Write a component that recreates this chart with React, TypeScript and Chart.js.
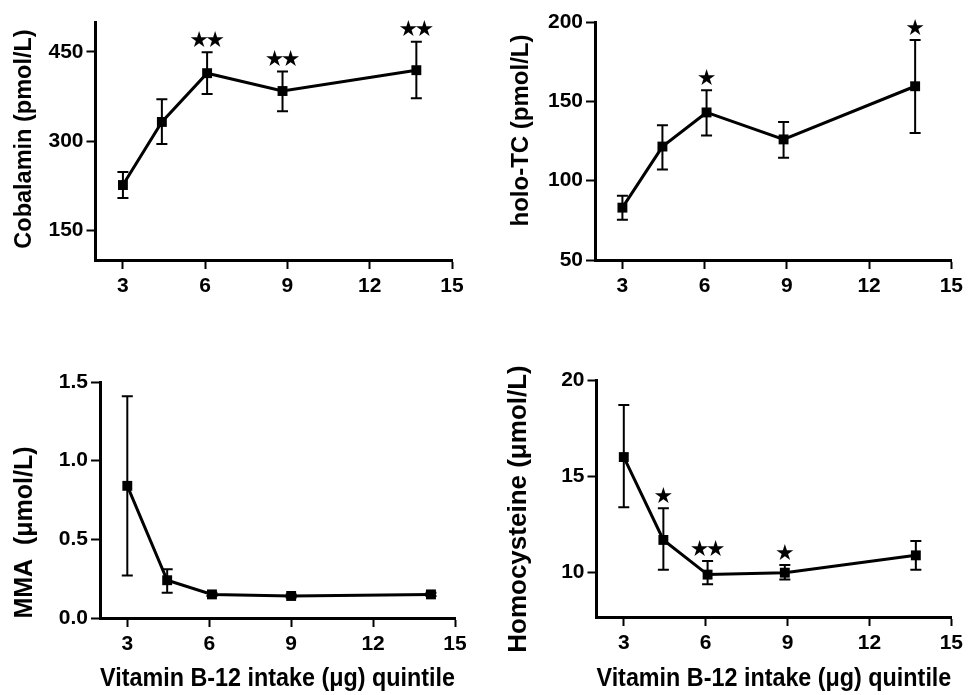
import React, { useEffect, useRef } from "react";
import { Chart, registerables } from "chart.js";

Chart.register(...registerables);

const FONT = 'Arial, "Liberation Sans", Helvetica, sans-serif';
const STAR_FONT = '"DejaVu Sans", sans-serif';

// Shared x axis
const xTicks = [3, 6, 9, 12, 15];
const xTitle = "Vitamin B-12 intake (μg) quintile";

// Panel 1: Cobalamin
const cobX = [3.0, 4.42, 6.07, 8.82, 13.7];
const cobMean = [226, 332, 414, 384, 419];
const cobLow = [204, 295, 379, 350, 372];
const cobHigh = [248, 370, 449, 417, 467];
const cobStars = [0, 0, 2, 2, 2];
const cobYTicks = [150, 300, 450];

// Panel 2: holo-TC
const holoX = [3.0, 4.46, 6.07, 8.88, 13.68];
const holoMean = [83, 121.5, 143, 126, 159.5];
const holoLow = [75.4, 107, 128.5, 114.5, 130];
const holoHigh = [90.5, 135, 157, 137, 188.6];
const holoStars = [0, 0, 1, 0, 1];
const holoYTicks = [50, 100, 150, 200];

// Panel 3: MMA
const mmaX = [3.0, 4.46, 6.1, 9.0, 14.12];
const mmaMean = [0.84, 0.24, 0.15, 0.14, 0.15];
const mmaLow = [0.27, 0.16, 0.14, 0.13, 0.14];
const mmaHigh = [1.41, 0.31, 0.16, 0.15, 0.16];
const mmaStars = [0, 0, 0, 0, 0];
const mmaYTicks = [0, 0.5, 1.0, 1.5];

// Panel 4: Homocysteine
const hcyX = [3.0, 4.45, 6.07, 8.9, 13.7];
const hcyMean = [16.0, 11.7, 9.9, 10.0, 10.9];
const hcyLow = [13.4, 10.15, 9.4, 9.65, 10.15];
const hcyHigh = [18.7, 13.35, 10.6, 10.4, 11.65];
const hcyStars = [0, 1, 2, 1, 0];
const hcyYTicks = [10, 15, 20];

type Panel = {
  key: string;
  pos: { left: number; top: number; width: number; height: number };
  area: { left: number; top: number; right: number; bottom: number };
  xs: number[];
  mean: number[];
  low: number[];
  high: number[];
  stars: number[];
  yMin: number;
  yMax: number;
  yTicks: number[];
  yDecimals: number;
  yTitle: string;
  yTitleSize: number;
  yTitleCenter: { x: number; y: number };
  showXTitle: boolean;
};

const panels: Panel[] = [
  {
    key: "cob",
    pos: { left: 0, top: 0, width: 484, height: 300 },
    area: { left: 95.5, top: 22, right: 452, bottom: 260 },
    xs: cobX, mean: cobMean, low: cobLow, high: cobHigh, stars: cobStars,
    yMin: 100, yMax: 500, yTicks: cobYTicks, yDecimals: 0,
    yTitle: "Cobalamin (pmol/L)",
    yTitleSize: 23.5,
    yTitleCenter: { x: 25, y: 139 },
    showXTitle: false,
  },
  {
    key: "holo",
    pos: { left: 484, top: 0, width: 484, height: 300 },
    area: { left: 111, top: 22, right: 468, bottom: 260 },
    xs: holoX, mean: holoMean, low: holoLow, high: holoHigh, stars: holoStars,
    yMin: 50, yMax: 200, yTicks: holoYTicks, yDecimals: 0,
    yTitle: "holo-TC (pmol/L)",
    yTitleSize: 24,
    yTitleCenter: { x: 37.5, y: 130.5 },
    showXTitle: false,
  },
  {
    key: "mma",
    pos: { left: 0, top: 330, width: 484, height: 365 },
    area: { left: 100, top: 52, right: 455, bottom: 288 },
    xs: mmaX, mean: mmaMean, low: mmaLow, high: mmaHigh, stars: mmaStars,
    yMin: 0, yMax: 1.5, yTicks: mmaYTicks, yDecimals: 1,
    yTitle: "MMA  (μmol/L)",
    yTitleSize: 25,
    yTitleCenter: { x: 25, y: 202.5 },
    showXTitle: true,
  },
  {
    key: "hcy",
    pos: { left: 484, top: 330, width: 484, height: 365 },
    area: { left: 112.5, top: 50, right: 469, bottom: 287 },
    xs: hcyX, mean: hcyMean, low: hcyLow, high: hcyHigh, stars: hcyStars,
    yMin: 7.7, yMax: 20, yTicks: hcyYTicks, yDecimals: 0,
    yTitle: "Homocysteine (μmol/L)",
    yTitleSize: 26,
    yTitleCenter: { x: 35, y: 179 },
    showXTitle: true,
  },
];

function PanelChart({ p }: { p: Panel }) {
  const ref = useRef<HTMLCanvasElement | null>(null);

  useEffect(() => {
    const canvas = ref.current;
    if (!canvas) return;
    const W = p.pos.width;
    const H = p.pos.height;

    const errorPlugin = {
      id: "errorBarsStars",
      beforeDatasetsDraw(chart: any) {
        const ctx = chart.ctx;
        const xs = chart.scales.x;
        const ys = chart.scales.y;
        ctx.save();
        ctx.strokeStyle = "#000";
        ctx.lineWidth = 2;
        const cap = 5.5;
        p.xs.forEach((xv, i) => {
          const px = xs.getPixelForValue(xv);
          const pl = ys.getPixelForValue(p.low[i]);
          const ph = ys.getPixelForValue(p.high[i]);
          ctx.beginPath();
          ctx.moveTo(px, pl);
          ctx.lineTo(px, ph);
          ctx.moveTo(px - cap, pl);
          ctx.lineTo(px + cap, pl);
          ctx.moveTo(px - cap, ph);
          ctx.lineTo(px + cap, ph);
          ctx.stroke();
        });
        ctx.restore();
      },
      afterDatasetsDraw(chart: any) {
        const ctx = chart.ctx;
        const xs = chart.scales.x;
        const ys = chart.scales.y;
        ctx.save();
        ctx.fillStyle = "#000";
        ctx.font = `22px ${STAR_FONT}`;
        ctx.textAlign = "center";
        ctx.textBaseline = "middle";
        const spacing = 16;
        p.xs.forEach((xv, i) => {
          const n = p.stars[i];
          if (!n) return;
          const px = xs.getPixelForValue(xv);
          const ph = ys.getPixelForValue(p.high[i]);
          for (let k = 0; k < n; k++) {
            const cx = px + (k - (n - 1) / 2) * spacing;
            ctx.fillText("★", cx, ph - 11);
          }
        });
        ctx.restore();
      },
      afterDraw(chart: any) {
        const ctx = chart.ctx;
        ctx.save();
        ctx.fillStyle = "#000";
        ctx.font = `bold ${p.yTitleSize}px ${FONT}`;
        ctx.textAlign = "center";
        ctx.textBaseline = "middle";
        ctx.translate(p.yTitleCenter.x, p.yTitleCenter.y);
        ctx.rotate(-Math.PI / 2);
        ctx.fillText(p.yTitle, 0, 0);
        ctx.restore();
      },
    };

    const chart = new Chart(canvas, {
      type: "line",
      data: {
        datasets: [
          {
            data: p.xs.map((x, i) => ({ x, y: p.mean[i] })),
            borderColor: "#000",
            backgroundColor: "#000",
            borderWidth: 3,
            pointStyle: "rect",
            pointRadius: 7,
            pointBackgroundColor: "#000",
            pointBorderColor: "#000",
            pointBorderWidth: 0,
            tension: 0,
            fill: false,
            clip: false as any,
          },
        ],
      },
      options: {
        animation: false,
        responsive: false,
        maintainAspectRatio: false,
        events: [],
        layout: {
          padding: { left: 0, top: p.area.top, right: W - p.area.right, bottom: 0 },
        },
        plugins: {
          legend: { display: false },
          tooltip: { enabled: false },
          title: { display: false },
        },
        scales: {
          x: {
            type: "linear",
            min: 2,
            max: 15,
            afterBuildTicks: (s: any) => {
              s.ticks = xTicks.map((v) => ({ value: v }));
            },
            afterFit: (s: any) => {
              s.height = H - p.area.bottom;
            },
            grid: {
              drawOnChartArea: false,
              drawTicks: true,
              tickLength: 9,
              tickWidth: 2,
              tickColor: "#000",
            },
            border: { display: true, color: "#000", width: 3 },
            ticks: {
              color: "#000",
              font: { family: FONT, size: 21, weight: "bold" },
              padding: 5,
              maxRotation: 0,
              autoSkip: false,
              callback: (v: any) => String(v),
            },
            title: {
              display: p.showXTitle,
              text: xTitle,
              color: "#000",
              font: { family: FONT, size: 25, weight: "bold" },
              padding: { top: 0, bottom: 1 },
            },
          },
          y: {
            type: "linear",
            min: p.yMin,
            max: p.yMax,
            afterBuildTicks: (s: any) => {
              s.ticks = p.yTicks.map((v) => ({ value: v }));
            },
            afterFit: (s: any) => {
              s.width = p.area.left;
            },
            grid: {
              drawOnChartArea: false,
              drawTicks: true,
              tickLength: 9,
              tickWidth: 2,
              tickColor: "#000",
            },
            border: { display: true, color: "#000", width: 3 },
            ticks: {
              color: "#000",
              font: { family: FONT, size: 21, weight: "bold" },
              padding: 3,
              autoSkip: false,
              callback: (v: any) => Number(v).toFixed(p.yDecimals),
            },
          },
        },
      } as any,
      plugins: [errorPlugin],
    });

    return () => chart.destroy();
  }, [p]);

  return (
    <canvas
      ref={ref}
      width={p.pos.width}
      height={p.pos.height}
      style={{
        position: "absolute",
        left: p.pos.left,
        top: p.pos.top,
        width: p.pos.width,
        height: p.pos.height,
        display: "block",
      }}
    />
  );
}

export default function App() {
  return (
    <div
      style={{
        position: "absolute",
        left: 0,
        top: 0,
        width: 968,
        height: 695,
        background: "#fff",
        overflow: "hidden",
      }}
    >
      {panels.map((p) => (
        <PanelChart key={p.key} p={p} />
      ))}
    </div>
  );
}
